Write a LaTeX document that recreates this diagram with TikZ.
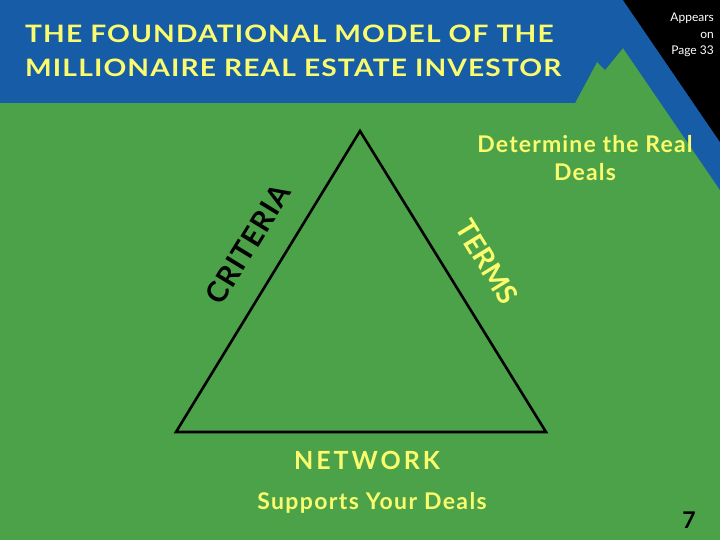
\documentclass[tikz,border=0pt]{standalone}
\usepackage{fontspec}
\setmainfont{Lato}
\usetikzlibrary{positioning}
\definecolor{fieldgreen}{RGB}{76,162,72}
\definecolor{headblue}{RGB}{22,92,166}
\definecolor{softyellow}{RGB}{250,252,110}

\begin{document}
\begin{tikzpicture}[
    x=1pt, y=-1pt,
    heading/.style={font=\bfseries\fontsize{24}{34}\selectfont\addfontfeature{LetterSpace=4},
                    text=softyellow, anchor=west, inner sep=0pt},
    sidelabel/.style={font=\bfseries\fontsize{29}{30}\selectfont\addfontfeature{LetterSpace=3},
                      inner sep=0pt},
    caption/.style={font=\bfseries\fontsize{23}{28}\selectfont\addfontfeature{LetterSpace=5},
                    text=softyellow, align=center, inner sep=0pt},
    edge/.style={draw=black, line width=2.6pt}
]

% fond vert et bandeau bleu
\fill[fieldgreen] (0,0) rectangle (720,540);
\fill[headblue] (0,0) -- (720,0) -- (720,190) -- (623,48) -- (605,70)
    -- (597,62) -- (575,103) -- (0,103) -- cycle;
\fill[black] (623,0) -- (720,0) -- (720,142) -- cycle;

% titre
\node[heading] (title) at (25,34) {\scalebox{1.175}[1]{THE FOUNDATIONAL MODEL OF THE}};
\node[heading] (subtitle) at (25,68) {\scalebox{1.175}[1]{MILLIONAIRE REAL ESTATE INVESTOR}};
\node[font=\fontsize{12}{16.5}\selectfont, text=white, align=right,
      anchor=north east, inner sep=0pt] (page) at (714,13) {Appears\\on\\Page 33};

% triangle
\coordinate (apex) at (360,131);
\coordinate (left) at (176,432);
\coordinate (right) at (546,432);
\draw[edge] (apex) -- (right) -- (left) -- cycle;

% etiquettes des cotes
\node[sidelabel, text=black, rotate=58.5] (criteria) at (248,244) {CRITERIA};
\node[sidelabel, text=softyellow, rotate=-58.4,
      font=\bfseries\fontsize{28}{30}\selectfont] (terms) at (487,262) {TERMS};
\node[caption] (deals) at (585,158) {Determine the Real\\Deals};

% base
\node[caption, font=\bfseries\fontsize{25}{28}\selectfont\addfontfeature{LetterSpace=12}] (network) at (367,460) {NETWORK};
\node[caption, font=\bfseries\fontsize{23}{28}\selectfont\addfontfeature{LetterSpace=6}] (support) at (372,503) {Supports Your Deals};
\node[font=\bfseries\fontsize{23}{28}\selectfont, inner sep=0pt] (num) at (689,520) {7};

\end{tikzpicture}
\end{document}
